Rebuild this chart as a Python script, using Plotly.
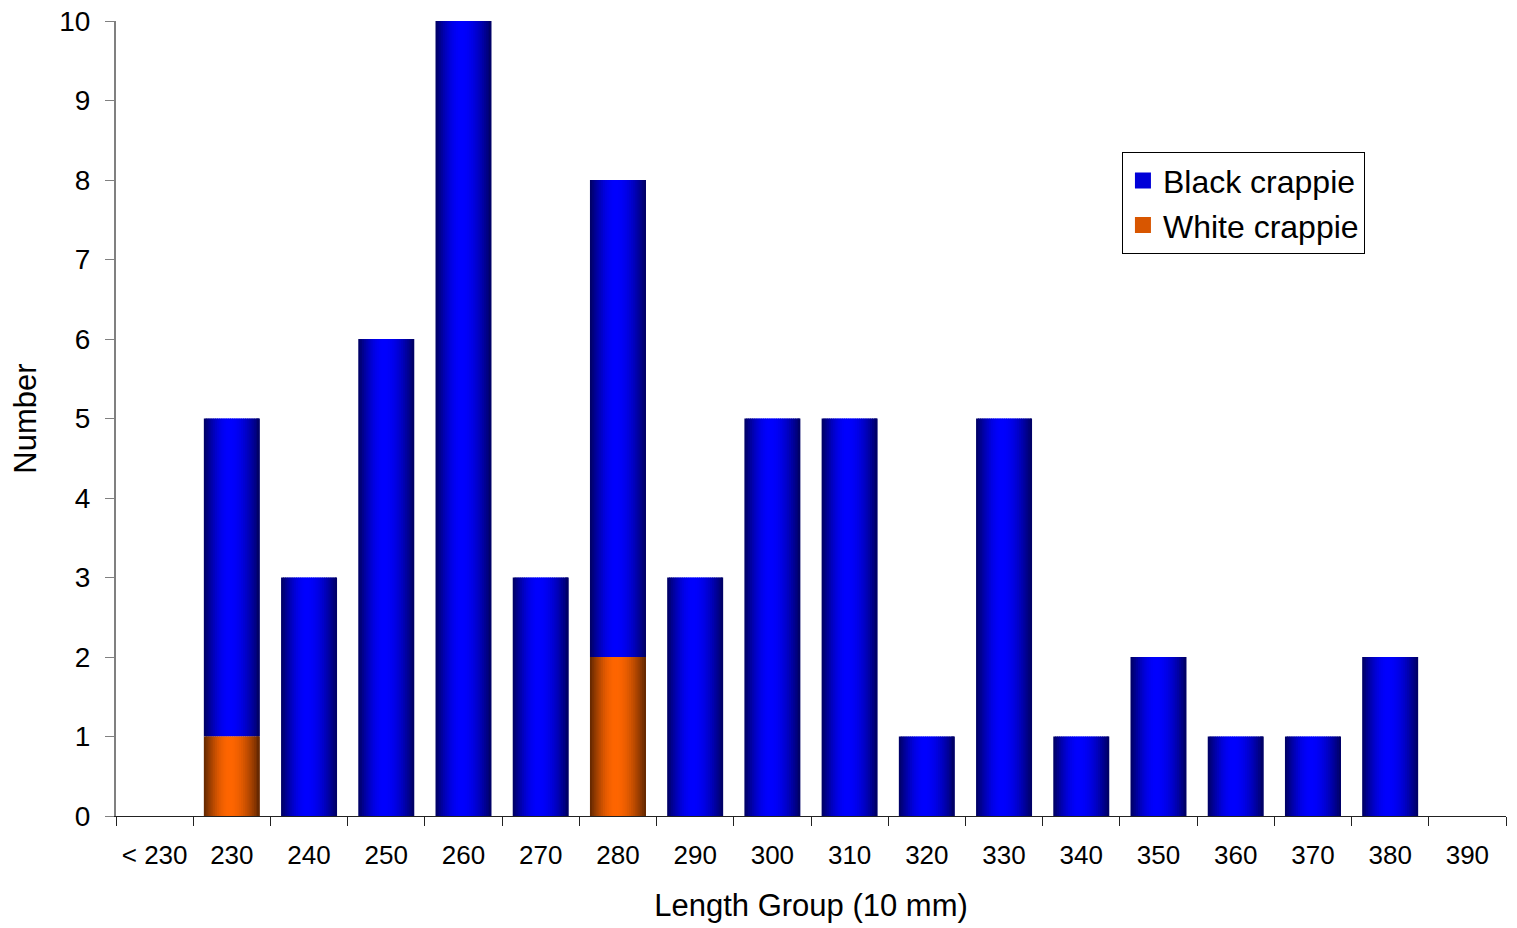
import math
import plotly.graph_objects as go

categories = ["< 230", "230", "240", "250", "260", "270", "280", "290", "300",
              "310", "320", "330", "340", "350", "360", "370", "380", "390"]
black_crappie = [0, 4, 3, 6, 10, 3, 6, 3, 5, 5, 1, 5, 1, 2, 1, 1, 2, 0]
white_crappie = [0, 1, 0, 0, 0, 0, 2, 0, 0, 0, 0, 0, 0, 0, 0, 0, 0, 0]

FONT = "Liberation Sans, Arial, sans-serif"
BAR_W = 0.725
N_SLICES = 30
PEAK = 0.46


def shade(t):
    if t < PEAK:
        d = (PEAK - t) / PEAK
    else:
        d = (t - PEAK) / (1 - PEAK)
    return 0.38 + 0.62 * math.cos(math.pi / 2 * d)


fig = go.Figure()
step = BAR_W / N_SLICES

series = [
    ("Black crappie", black_crappie, white_crappie, (0, 0, 255)),
    ("White crappie", white_crappie, [0] * len(categories), (255, 102, 0)),
]
for name, vals, base, rgb in series:
    for i in range(N_SLICES):
        t = (i + 0.5) / N_SLICES
        f = shade(t)
        col = "rgb(%d,%d,%d)" % (rgb[0] * f, rgb[1] * f, rgb[2] * f)
        w = step * 1.6 if i < N_SLICES - 1 else step
        fig.add_trace(go.Bar(
            x=categories, y=vals, base=base,
            offset=-BAR_W / 2 + i * step, width=w,
            marker=dict(color=col, line=dict(width=0)),
            name=name, legendgroup=name,
            showlegend=False,
            hoverinfo="skip",
        ))

# legend entries (square swatches)
for name, vals, base, rgb in series:
    fig.add_trace(go.Scatter(
        x=[None], y=[None], mode="markers", name=name, legendgroup=name,
        marker=dict(symbol="square", size=20,
                    color="rgb(%d,%d,%d)" % (rgb[0] * 0.85, rgb[1] * 0.85, rgb[2] * 0.85),
                    line=dict(width=0)),
        showlegend=True, hoverinfo="skip",
    ))

fig.update_layout(
    width=1509, height=920,
    barmode="overlay",
    paper_bgcolor="white", plot_bgcolor="white",
    margin=dict(l=108, r=11, t=13, b=112, autoexpand=False),
    font=dict(family=FONT, size=27, color="black"),
    showlegend=True,
    legend=dict(
        x=0.7237, y=0.835, xanchor="left", yanchor="top",
        bgcolor="white", bordercolor="black", borderwidth=1,
        font=dict(size=32), tracegroupgap=0, itemsizing="trace",
    ),
)
fig.update_xaxes(
    type="category", categoryorder="array", categoryarray=categories,
    range=[-0.5, len(categories) - 0.5],
    automargin=False,
    showline=True, linecolor="#222222", linewidth=1,
    ticks="outside", tickson="boundaries", ticklen=9, tickcolor="#222222",
    showgrid=False, zeroline=False,
    tickangle=0, tickfont=dict(size=26), ticklabelstandoff=16,
    ticklabeloverflow="allow",
    title=dict(text="Length Group (10 mm)", font=dict(size=31), standoff=25),
)
fig.update_yaxes(
    range=[0, 10], dtick=1, tick0=0,
    automargin=False,
    showline=True, linecolor="#808080", linewidth=2,
    ticks="outside", ticklen=9, tickcolor="#808080",
    showgrid=False, zeroline=False,
    tickfont=dict(size=28), ticklabelstandoff=9,
    ticklabeloverflow="allow",
    title=dict(text="Number", font=dict(size=31), standoff=19),
)

fig.write_html("out.html")
